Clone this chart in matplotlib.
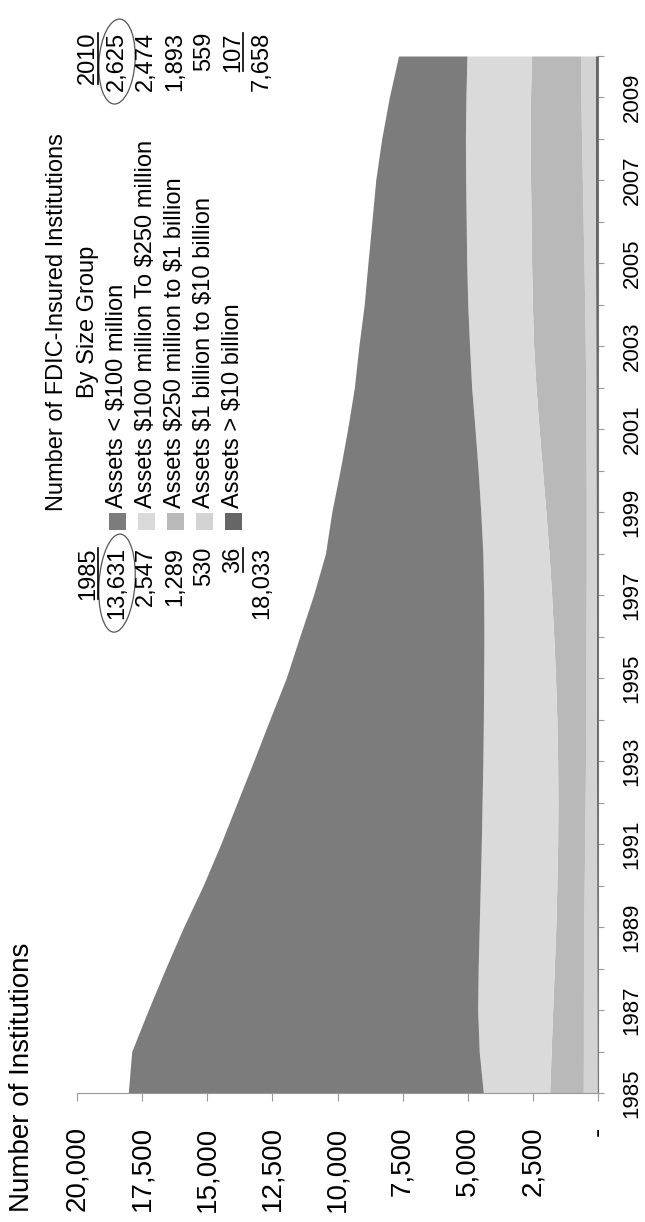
import numpy as np
import matplotlib.pyplot as plt
from matplotlib.patches import Rectangle, Ellipse
from matplotlib.lines import Line2D
from matplotlib.transforms import IdentityTransform

# number of FDIC-insured institutions by asset size, 1985-2010
years = list(range(1985, 2011))
lt_100m = [13631, 13340, 12644, 12000, 11348, 10638, 10002, 9402, 8800, 8202, 7580, 7072, 6533,
           6043, 5721, 5304, 4893, 4504, 4251, 3976, 3793, 3621, 3454, 3215, 2942, 2625]
m100_250m = [2547, 2760, 2880, 2920, 2940, 2940, 2930, 2910, 2870, 2820, 2760, 2680, 2610,
             2540, 2500, 2470, 2460, 2470, 2460, 2480, 2490, 2490, 2490, 2490, 2480, 2474]
m250_1b = [1289, 1240, 1180, 1125, 1075, 1050, 1040, 1045, 1070, 1110, 1165, 1240, 1325,
           1430, 1550, 1675, 1800, 1910, 1980, 2010, 2010, 2000, 1990, 1970, 1930, 1893]
b1_10b = [530, 520, 516, 507, 495, 478, 456, 439, 422, 410, 403, 396, 387,
          378, 374, 375, 378, 386, 404, 420, 445, 470, 496, 522, 552, 559]
gt_10b = [36, 40, 44, 48, 50, 52, 54, 56, 58, 60, 62, 64, 68,
          72, 76, 80, 82, 84, 86, 90, 95, 100, 104, 108, 108, 107]

labels = ["Assets < $100 million", "Assets $100 million To $250 million",
          "Assets $250 million to $1 billion", "Assets $1 billion to $10 billion",
          "Assets > $10 billion"]
colors = ["#7c7c7c", "#dadada", "#b9b9b9", "#d3d3d3", "#666666"]

nums_1985 = ["13,631", "2,547", "1,289", "530", "36", "18,033"]
nums_2010 = ["2,625", "2,474", "1,893", "559", "107", "7,658"]

value_ticks = [0, 2500, 5000, 7500, 10000, 12500, 15000, 17500, 20000]
value_labels = ["-", "2,500", "5,000", "7,500", "10,000", "12,500", "15,000", "17,500", "20,000"]

plt.rcParams['font.family'] = ['Liberation Sans', 'DejaVu Sans']

W, H = 645, 1222
fig = plt.figure(figsize=(W / 100, H / 100), dpi=100)
ax = fig.add_axes([77 / W, 1 - 1093 / H, (598 - 77) / W, (1093 - 56) / H])


def fx(x):
    return x / W


def fy(y):
    return 1 - y / H


def rtext(x, y, s, va, size=17):
    return fig.text(fx(x), fy(y), s, rotation=90, ha='center', va=va,
                    fontsize=size, parse_math=False)


# stacked area, drawn sideways: years run up, counts run to the left
stack = [gt_10b, b1_10b, m250_1b, m100_250m, lt_100m]
stack_colors = colors[::-1]
base = np.zeros(len(years))
for vals, col in zip(stack, stack_colors):
    top = base + np.array(vals)
    ax.fill_betweenx(years, base, top, color=col, lw=0)
    base = top

ax.set_xlim(20000, 0)
ax.set_ylim(1985, 2010)
ax.set_xticks(value_ticks)
ax.set_xticklabels(value_labels, rotation=90, fontsize=20)
ax.tick_params(axis='x', length=6, color='#999999', pad=18)

ax.yaxis.tick_right()
ax.set_yticks(years)
ax.set_yticklabels([str(y) if y % 2 == 1 else "" for y in years], rotation=90,
                   fontsize=16, va='center')
ax.tick_params(axis='y', length=4, color='#999999', pad=13)

for side in ['left', 'top']:
    ax.spines[side].set_visible(False)
ax.spines['bottom'].set_color('#999999')
ax.spines['right'].set_color('#777777')

rtext(22, 1212, "Number of Institutions", 'bottom', size=20)

# title block and hand-made legend
rtext(57, 322, "Number of FDIC-Insured Institutions", 'center')
rtext(88, 322, "By Size Group", 'center')

row0 = 88
pitch = 29
t85 = rtext(row0, 547, "1985", 'top')
t10 = rtext(row0, 32, "2010", 'top')
under = [t85, t10]
circled = []
for i in range(6):
    x = row0 + pitch * (i + 1)
    a = rtext(x, 547, nums_1985[i], 'top')
    b = rtext(x, 32, nums_2010[i], 'top')
    if i == 0:
        circled += [a, b]
    if i == 4:
        under += [a, b]
    if i < 5:
        fig.add_artist(Rectangle((fx(x - 8), fy(530)), 17 / W, 17 / H,
                                 transform=fig.transFigure, color=colors[i], lw=0))
        rtext(x, 508, labels[i], 'bottom')

fig.canvas.draw()
ident = IdentityTransform()
for t in under:
    bb = t.get_window_extent()
    fig.add_artist(Line2D([bb.x1 - 1, bb.x1 - 1], [bb.y0 + 1, bb.y1 - 1],
                          transform=ident, color='black', lw=1.2))
for t in circled:
    bb = t.get_window_extent()
    fig.add_artist(Ellipse(((bb.x0 + bb.x1) / 2, (bb.y0 + bb.y1) / 2),
                           bb.width + 14, bb.height + 26, angle=-4,
                           transform=ident, fill=False, color='#555555', lw=0.9))

fig.savefig('out.png', dpi=100)
